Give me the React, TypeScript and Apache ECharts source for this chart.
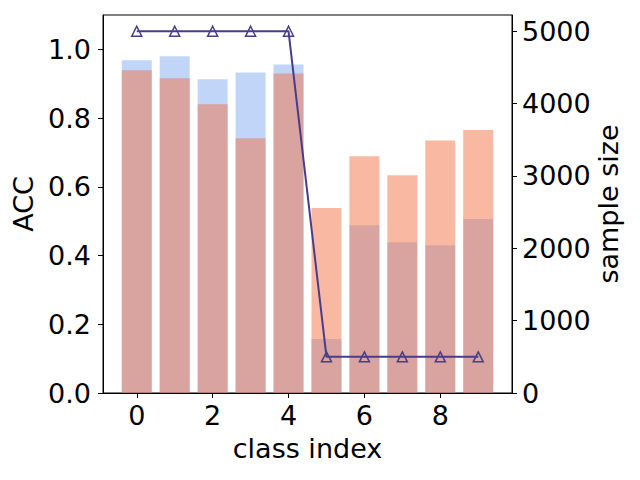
import React, { useEffect, useRef } from "react";
import * as echarts from "echarts";

const classIndex = [0, 1, 2, 3, 4, 5, 6, 7, 8, 9];
const accBlue = [0.968, 0.98, 0.913, 0.933, 0.956, 0.157, 0.488, 0.439, 0.43, 0.506];
const accSalmon = [0.939, 0.916, 0.84, 0.741, 0.93, 0.538, 0.689, 0.634, 0.735, 0.765];
const sampleSize = [5000, 5000, 5000, 5000, 5000, 500, 500, 500, 500, 500];
const xTicks = [0, 2, 4, 6, 8];
const accTicks = [0, 0.2, 0.4, 0.6, 0.8, 1.0];
const sizeTicks = [0, 1000, 2000, 3000, 4000, 5000];

const FONT = "DejaVu Sans";

export default function App() {
  const ref = useRef<HTMLDivElement>(null);
  useEffect(() => {
    if (!ref.current) return;
    const chart = echarts.init(ref.current, undefined, { renderer: "svg" });
    const labelStyle = { color: "#000", fontFamily: FONT, fontSize: 27 };
    chart.setOption({
      animation: false,
      backgroundColor: "#fff",
      grid: {
        left: 103,
        right: 128,
        top: 15,
        bottom: 87,
        containLabel: false,
        outerBoundsMode: "none",
        show: true,
        borderColor: "#000",
        borderWidth: 1,
        backgroundColor: "transparent",
      },
      xAxis: {
        type: "value",
        min: -0.89,
        max: 9.89,
        name: "class index",
        nameLocation: "middle",
        nameGap: 42,
        nameMoveOverlap: false,
        nameTextStyle: labelStyle,
        splitLine: { show: false },
        axisLine: { show: true, onZero: false, lineStyle: { color: "#000", width: 1 } },
        axisTick: { show: true, length: 5, customValues: xTicks, lineStyle: { color: "#000" } },
        axisLabel: { ...labelStyle, margin: 9, customValues: xTicks },
      },
      yAxis: [
        {
          type: "value",
          min: 0,
          max: 1.1,
          name: "ACC",
          nameLocation: "middle",
          nameGap: 66,
          nameMoveOverlap: false,
          nameTextStyle: labelStyle,
          splitLine: { show: false },
          axisLine: { show: true, onZero: false, lineStyle: { color: "#000", width: 1 } },
          axisTick: { show: true, length: 5, customValues: accTicks, lineStyle: { color: "#000" } },
          axisLabel: {
            ...labelStyle,
            margin: 12,
            customValues: accTicks,
            formatter: (v: number) => v.toFixed(1),
          },
        },
        {
          type: "value",
          min: 0,
          max: 5225,
          position: "right",
          name: "sample size",
          nameLocation: "middle",
          nameGap: 83,
          nameMoveOverlap: false,
          nameTextStyle: labelStyle,
          splitLine: { show: false },
          axisLine: { show: true, onZero: false, lineStyle: { color: "#000", width: 1 } },
          axisTick: { show: true, length: 5, customValues: sizeTicks, lineStyle: { color: "#000" } },
          axisLabel: {
            ...labelStyle,
            margin: 10,
            customValues: sizeTicks,
            formatter: (v: number) => String(Math.round(v)),
          },
        },
      ],
      series: [
        {
          type: "bar",
          yAxisIndex: 0,
          barWidth: 30,
          data: classIndex.map((c, i) => [c, accBlue[i]]),
          itemStyle: { color: "rgba(100,149,237,0.4)" },
          z: 1,
        },
        {
          type: "bar",
          yAxisIndex: 0,
          barWidth: 30,
          barGap: "-100%",
          data: classIndex.map((c, i) => [c, accSalmon[i]]),
          itemStyle: { color: "rgba(241,113,69,0.5)" },
          z: 2,
        },
        {
          type: "line",
          yAxisIndex: 1,
          data: classIndex.map((c, i) => [c, sampleSize[i]]),
          symbol: "triangle",
          symbolSize: 10,
          lineStyle: { color: "#483d8b", width: 2 },
          itemStyle: { color: "rgba(255,255,255,0)", borderColor: "#483d8b", borderWidth: 1.5 },
          z: 3,
        },
      ],
    });
    return () => chart.dispose();
  }, []);
  return <div ref={ref} style={{ width: 640, height: 480, position: "absolute", left: 0, top: 0 }} />;
}
